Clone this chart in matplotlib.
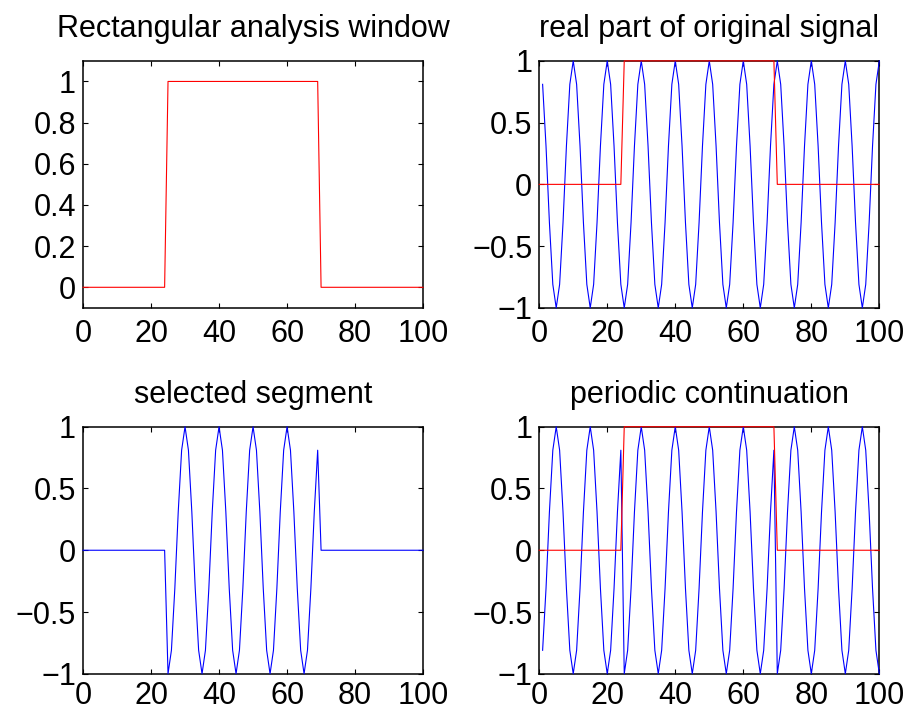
import numpy as np
import matplotlib
matplotlib.use("Agg")
import matplotlib.pyplot as plt
from matplotlib.ticker import FuncFormatter

"""
Rectangular windowing of a sampled cosine and the periodic continuation of the selected segment
"""

# sample index of the signal (1..100) and of the window (0..100)
N_SIGNAL = np.arange(1, 101)
N_WINDOW = np.arange(0, 101)

# real part of the original signal
SIGNAL = [
    0.81, 0.31, -0.31, -0.81, -1, -0.81, -0.31, 0.31, 0.81, 1,
    0.81, 0.31, -0.31, -0.81, -1, -0.81, -0.31, 0.31, 0.81, 1,
    0.81, 0.31, -0.31, -0.81, -1, -0.81, -0.31, 0.31, 0.81, 1,
    0.81, 0.31, -0.31, -0.81, -1, -0.81, -0.31, 0.31, 0.81, 1,
    0.81, 0.31, -0.31, -0.81, -1, -0.81, -0.31, 0.31, 0.81, 1,
    0.81, 0.31, -0.31, -0.81, -1, -0.81, -0.31, 0.31, 0.81, 1,
    0.81, 0.31, -0.31, -0.81, -1, -0.81, -0.31, 0.31, 0.81, 1,
    0.81, 0.31, -0.31, -0.81, -1, -0.81, -0.31, 0.31, 0.81, 1,
    0.81, 0.31, -0.31, -0.81, -1, -0.81, -0.31, 0.31, 0.81, 1,
    0.81, 0.31, -0.31, -0.81, -1, -0.81, -0.31, 0.31, 0.81, 1,
]
# rectangular window: zero up to 24, one from 25 to 69, zero from 70
WINDOW = [0] * 25 + [1] * 45 + [0] * 31

TITLES = [
    "Rectangular analysis window",
    "real part of original signal",
    "selected segment",
    "periodic continuation",
]
X_TICKS = [0, 20, 40, 60, 80, 100]
Y_TICKS_WINDOW = [0, 0.2, 0.4, 0.6, 0.8, 1]
Y_TICKS_SIGNAL = [-1, -0.5, 0, 0.5, 1]

FONT_SIZE = 22
LINE_W = 0.8


def fmt(v, _pos):
    # matlab style tick labels: no trailing zeros, long minus
    return ("%g" % v).replace("-", "\u2212")


def style(ax, title, yticks, ylim, xpad):
    ax.set_xlim(0, 100)
    ax.set_ylim(*ylim)
    ax.set_xticks(X_TICKS)
    ax.set_yticks(yticks)
    ax.xaxis.set_major_formatter(FuncFormatter(fmt))
    ax.yaxis.set_major_formatter(FuncFormatter(fmt))
    ax.tick_params(direction="in", top=True, right=True, length=3.5, width=0.8,
                   labelsize=FONT_SIZE, pad=5)
    ax.tick_params(axis="x", pad=xpad)
    for s in ax.spines.values():
        s.set_linewidth(1.1)
    ax.set_title(title, fontsize=FONT_SIZE, pad=17)


def line(ax, x, y, color):
    ax.plot(x, y, color=color, lw=LINE_W, clip_on=False, zorder=3)


def main():
    plt.rcParams["font.family"] = ["Liberation Sans", "DejaVu Sans"]

    signal = np.array(SIGNAL, dtype=float)
    window = np.array(WINDOW, dtype=float)

    # selected segment on 0..100 (signal is zero-padded at n=0)
    segment = window * np.concatenate([[0.0], signal])

    # periodic continuation of the 45 samples n=25..69
    seg_vals = signal[(window[1:] > 0)]
    periodic = seg_vals[(N_SIGNAL - 25) % len(seg_vals)]

    fig = plt.figure(figsize=(9.07, 7.16), dpi=100)
    w, h = 0.375, 0.345
    ax1 = fig.add_axes([0.0915, 0.5700, w, h])
    ax2 = fig.add_axes([0.5945, 0.5700, w, h])
    ax3 = fig.add_axes([0.0915, 0.0590, w, h])
    ax4 = fig.add_axes([0.5945, 0.0590, w, h])

    line(ax1, N_WINDOW, window, "#ff0000")
    style(ax1, TITLES[0], Y_TICKS_WINDOW, (-0.1, 1.1), 8)

    line(ax2, N_SIGNAL, signal, "#0000ff")
    line(ax2, N_WINDOW, window, "#ff0000")
    style(ax2, TITLES[1], Y_TICKS_SIGNAL, (-1, 1), 8)

    line(ax3, N_WINDOW, segment, "#0000ff")
    style(ax3, TITLES[2], Y_TICKS_SIGNAL, (-1, 1), 5)

    line(ax4, N_SIGNAL, periodic, "#0000ff")
    line(ax4, N_WINDOW, window, "#ff0000")
    style(ax4, TITLES[3], Y_TICKS_SIGNAL, (-1, 1), 5)

    fig.savefig("out.png", dpi=100)


if __name__ == "__main__":
    main()
